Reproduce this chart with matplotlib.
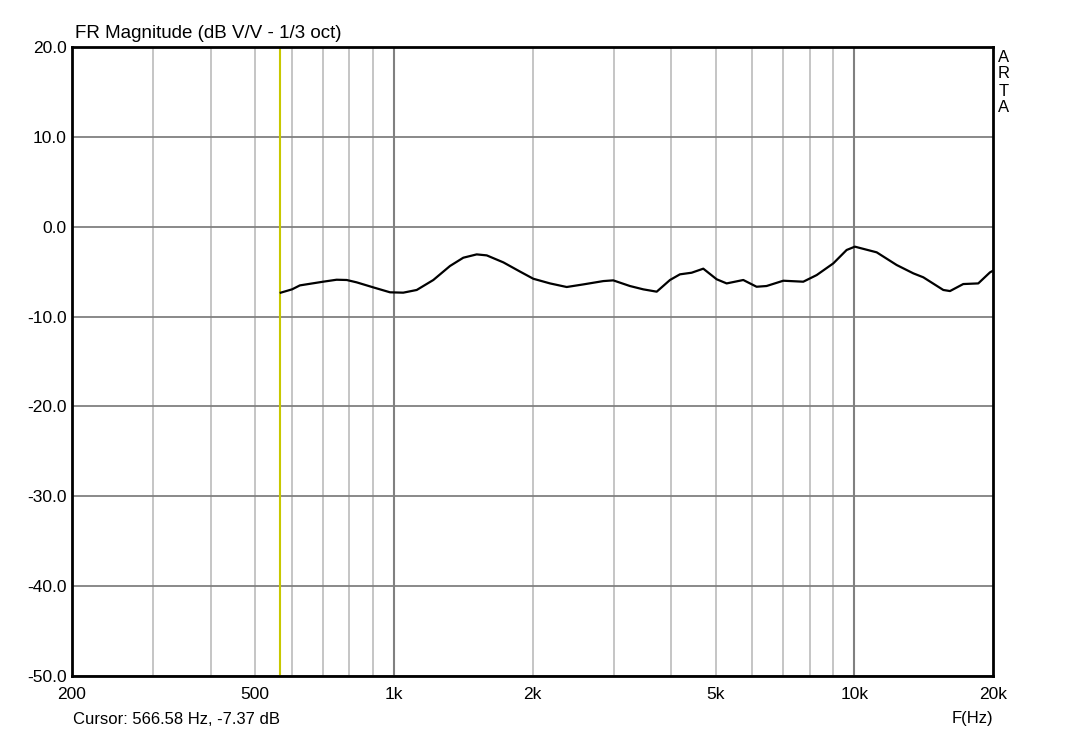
import matplotlib
matplotlib.use("Agg")
import matplotlib.pyplot as plt
import numpy as np
from matplotlib.ticker import FixedLocator, NullFormatter, NullLocator

plt.rcParams['font.family'] = ['Liberation Sans', 'DejaVu Sans']

freq_hz = [568, 601, 625, 702, 751, 790, 830, 902, 981, 1048, 1121, 1218, 1324, 1415,
           1513, 1591, 1729, 1880, 2008, 2183, 2373, 2579, 2850, 2995, 3255, 3480, 3722,
           3977, 4180, 4432, 4698, 5023, 5280, 5738, 6132, 6445, 7009, 7745, 8283, 9000,
           9620, 10025, 11180, 12353, 13428, 14115, 15600, 16130, 17235, 18580, 19700, 20000]
mag_db = [-7.34, -6.97, -6.53, -6.12, -5.9, -5.93, -6.19, -6.75, -7.3, -7.34, -7.04, -5.93,
          -4.37, -3.45, -3.08, -3.19, -3.97, -5.0, -5.79, -6.31, -6.71, -6.42, -6.05, -5.97,
          -6.6, -6.97, -7.23, -5.93, -5.3, -5.12, -4.67, -5.85, -6.31, -5.93, -6.68, -6.6,
          -6.01, -6.12, -5.38, -4.08, -2.59, -2.22, -2.85, -4.26, -5.19, -5.63, -7.04, -7.16,
          -6.38, -6.31, -5.08, -4.9]

cursor_hz = 566.58
cursor_db = -7.37
x_major = [200, 500, 1000, 2000, 5000, 10000, 20000]
x_major_labels = ["200", "500", "1k", "2k", "5k", "10k", "20k"]
y_ticks = [20, 10, 0, -10, -20, -30, -40, -50]
y_labels = ["20.0", "10.0", "0.0", "-10.0", "-20.0", "-30.0", "-40.0", "-50.0"]
minor_grid = [300, 400, 500, 600, 700, 800, 900, 2000, 3000, 4000, 5000, 6000, 7000,
              8000, 9000]
decade_grid = [1000, 10000]

fig = plt.figure(figsize=(10.65, 7.34), dpi=100)
ax = fig.add_axes([72/1065, 58/734, 921/1065, 629/734])
ax.set_xscale('log')
ax.set_xlim(200, 20000)
ax.set_ylim(-50, 20)

for f in minor_grid:
    ax.axvline(f, color='#c0c0c0', lw=1.3, zorder=1)
for f in decade_grid:
    ax.axvline(f, color='#808080', lw=1.5, zorder=1)
for y in y_ticks:
    ax.axhline(y, color='#808080', lw=1.3, zorder=1)

ax.axvline(cursor_hz, color='#c8c800', lw=1.5, zorder=2)
ax.plot(freq_hz, mag_db, color='black', lw=1.6, zorder=3, solid_joinstyle='round')

ax.xaxis.set_major_locator(FixedLocator(x_major))
ax.set_xticklabels(x_major_labels)
ax.xaxis.set_minor_locator(NullLocator())
ax.xaxis.set_minor_formatter(NullFormatter())
ax.set_yticks(y_ticks)
ax.set_yticklabels(y_labels)
ax.tick_params(axis='both', length=0, labelsize=12.5, colors='black')
ax.tick_params(axis='x', pad=8)
ax.tick_params(axis='y', pad=4)
for s in ax.spines.values():
    s.set_linewidth(2)
    s.set_color('black')

fig.text(75/1065, 1 - 33/734, "FR Magnitude (dB V/V - 1/3 oct)", fontsize=13.5,
         ha='left', va='center')
fig.text(73/1065, 1 - 719/734, "Cursor: %.2f Hz, %.2f dB" % (cursor_hz, cursor_db),
         fontsize=12, ha='left', va='center')
fig.text(993/1065, 1 - 719/734, "F(Hz)", fontsize=12, ha='right', va='center')
for i, ch in enumerate("ARTA"):
    fig.text(1004/1065, 1 - (57 + 17 * i)/734, ch, fontsize=12, ha='center', va='center')

fig.savefig("out.png", dpi=100, facecolor='white')
